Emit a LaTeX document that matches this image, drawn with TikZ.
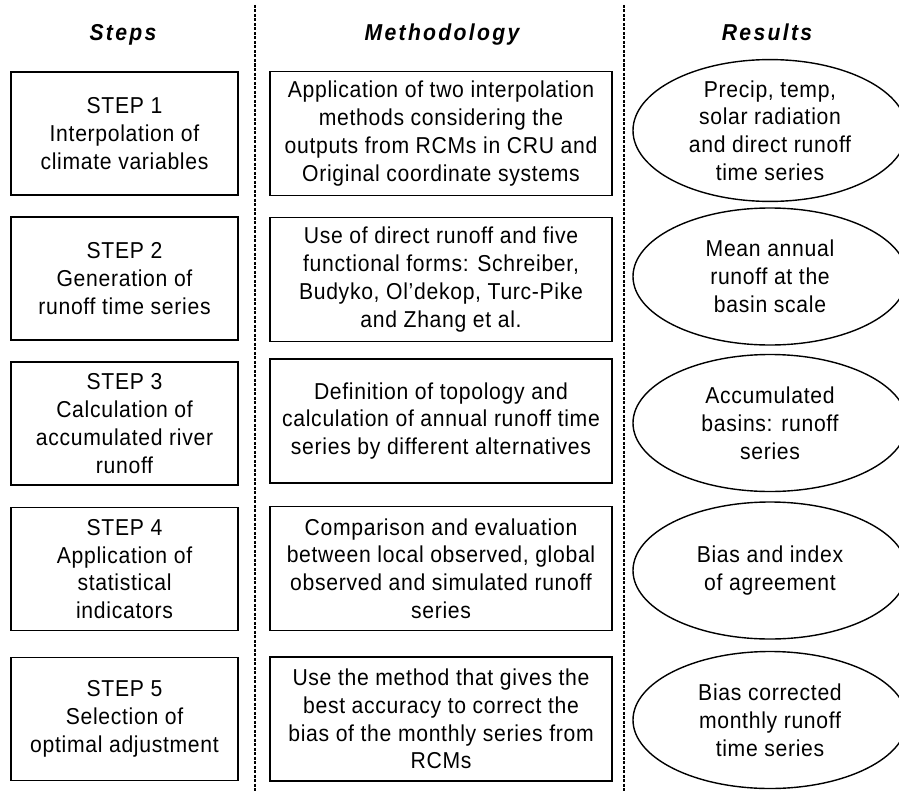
\documentclass[tikz,border=0pt]{standalone}
\usepackage{fontspec}
\setmainfont{Liberation Sans}[LetterSpace=3,FakeStretch=0.92]
\usetikzlibrary{shapes.geometric}
\tikzset{
  txt/.style={font=\fontsize{23}{27.8}\selectfont, align=center, inner sep=0pt},
  stepbox/.style={txt, draw, line width=1.6pt, minimum width=227pt, minimum height=123pt},
  methbox/.style={txt, draw, line width=1.6pt, minimum width=342pt, minimum height=124pt},
  resell/.style={txt, draw, ellipse, line width=1.4pt, minimum width=274pt, minimum height=137pt},
  header/.style={font=\fontsize{23}{26}\selectfont\bfseries\itshape\addfontfeatures{LetterSpace=10}, inner sep=0pt, anchor=base},
  sepline/.style={line width=1.3pt, dash pattern=on 3pt off 1.5pt}
}
\begin{document}
\begin{tikzpicture}[x=1pt,y=-1pt]
\useasboundingbox (0,0) rectangle (899,792);
% separators
\coordinate (s1t) at (255,5); \coordinate (s1b) at (255,792);
\coordinate (s2t) at (624,5); \coordinate (s2b) at (624,792);
\draw[sepline] (s1t) -- (s1b);
\draw[sepline] (s2t) -- (s2b);
% headers
\node[header] (h1) at (123,41) {Steps};
\node[header] (h2) at (442,41) {Methodology};
\node[header] (h3) at (767,41) {Results};
% steps
\node[stepbox] (st1) at (124.5,133.5) {STEP 1\\Interpolation of\\climate variables};
\node[stepbox] (st2) at (124.5,278.5) {STEP 2\\Generation of\\runoff time series};
\node[stepbox] (st3) at (124.5,423.5) {STEP 3\\Calculation of\\accumulated river\\runoff};
\node[stepbox] (st4) at (124.5,569) {STEP 4\\Application of\\statistical\\indicators};
\node[stepbox] (st5) at (124.5,719) {STEP 5\\Selection of\\optimal adjustment};
% methodology
\node[methbox] (m1) at (441,133.5) {Application of two interpolation\\methods considering the\\outputs from RCMs in CRU and\\Original coordinate systems};
\node[methbox] (m2) at (441,279.5) {Use of direct runoff and five\\functional forms: Schreiber,\\Budyko, Ol’dekop, Turc-Pike\\and Zhang et al.};
\node[methbox] (m3) at (441,421) {Definition of topology and\\calculation of annual runoff time\\series by different alternatives};
\node[methbox] (m4) at (441,568.5) {Comparison and evaluation\\between local observed, global\\observed and simulated runoff\\series};
\node[methbox] (m5) at (441,719) {Use the method that gives the\\best accuracy to correct the\\bias of the monthly series from\\RCMs};
% results
\node[resell] (r1) at (770,130.5) {Precip, temp,\\solar radiation\\and direct runoff\\time series};
\node[resell] (r2) at (770,276.5) {Mean annual\\runoff at the\\basin scale};
\node[resell] (r3) at (770,423) {Accumulated\\basins: runoff\\series};
\node[resell] (r4) at (770,570.5) {Bias and index\\of agreement};
\node[resell] (r5) at (770,720) {Bias corrected\\monthly runoff\\time series};
\end{tikzpicture}
\end{document}
